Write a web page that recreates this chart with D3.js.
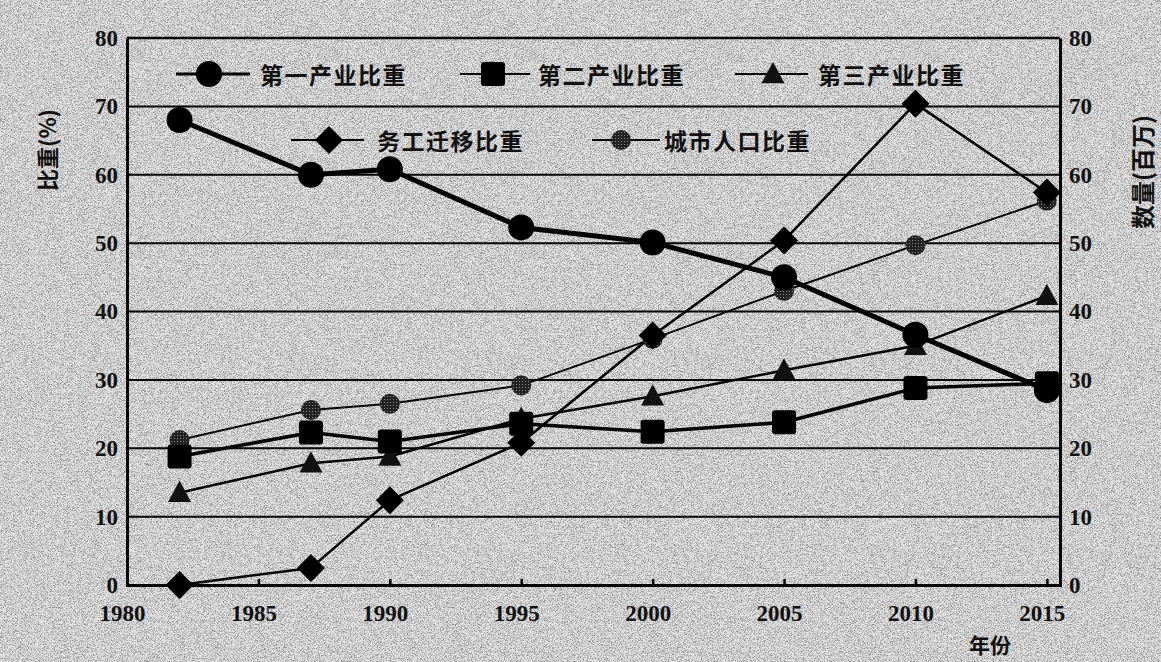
<!DOCTYPE html>
<html><head><meta charset="utf-8">
<script src="https://cdn.jsdelivr.net/npm/d3@7"></script>
<style>
html,body{margin:0;padding:0;background:#d0d0d0;}
svg{display:block;}
</style></head>
<body>
<svg id="chart" width="1161" height="662"></svg>
<script>
const years = [1982, 1987, 1990, 1995, 2000, 2005, 2010, 2015];
const primaryShare = [68, 60, 60.8, 52.3, 50.1, 45, 36.6, 28.5];
const secondaryShare = [18.8, 22.3, 21, 23.6, 22.4, 23.8, 28.8, 29.5];
const tertiaryShare = [13.5, 17.8, 18.8, 24.3, 27.6, 31.4, 35, 42.3];
const migrantShare = [0, 2.5, 12.4, 20.8, 36.5, 50.4, 70.4, 57.4];
const urbanShare = [21.2, 25.6, 26.5, 29.2, 36, 43, 49.7, 56.2];
const yTicks = [0, 10, 20, 30, 40, 50, 60, 70, 80];
const xTicks = [1980, 1985, 1990, 1995, 2000, 2005, 2010, 2015];
const seriesNames = ["第一产业比重", "第二产业比重", "第三产业比重", "务工迁移比重", "城市人口比重"];
const leftTitle = "比重(%)";
const rightTitle = "数量(百万)";
const xTitle = "年份";

const svg = d3.select("#chart");
const W = 1161, H = 662;
const L = 127, R = 1060, T = 38, B = 585;

const defs = svg.append("defs");
const f = defs.append("filter").attr("id","noise").attr("x",0).attr("y",0).attr("width","100%").attr("height","100%");
f.append("feTurbulence").attr("type","fractalNoise").attr("baseFrequency","1.3").attr("numOctaves",2).attr("seed",7).attr("result","t");
f.append("feColorMatrix").attr("type","matrix")
  .attr("values","0 0 0 0 0  0 0 0 0 0  0 0 0 0 0  -3 0 0 0 1.75");
const hatch = defs.append("pattern").attr("id","hatch").attr("width",3).attr("height",3).attr("patternUnits","userSpaceOnUse");
hatch.append("rect").attr("width",3).attr("height",3).attr("fill","#222");
hatch.append("rect").attr("width",1).attr("height",1).attr("fill","#888");

svg.append("rect").attr("width",W).attr("height",H).attr("fill","#e4e4e4");
svg.append("rect").attr("width",W).attr("height",H).attr("filter","url(#noise)").attr("opacity",0.38);

const x = d3.scaleLinear().domain([1980, 2015.5]).range([L, R]);
const y = d3.scaleLinear().domain([0, 80]).range([B, T]);

// gridlines
svg.append("g").selectAll("line").data(yTicks.filter(d=>d>0)).join("line")
  .attr("x1",L).attr("x2",R).attr("y1",d=>y(d)).attr("y2",d=>y(d))
  .attr("stroke","#000").attr("stroke-width",d=>d===80?2.5:2);

// axes
const numFont = "'Liberation Serif','Times New Roman',serif";
const cjkFont = "'Noto Sans CJK SC','Noto Sans CJK JP',sans-serif";

const leftAxis = d3.axisLeft(y).tickValues(yTicks).tickSize(0).tickPadding(9);
const gl = svg.append("g").attr("transform",`translate(${L},0)`).call(leftAxis);
const rightAxis = d3.axisRight(y).tickValues(yTicks).tickSize(0).tickPadding(9);
const gr = svg.append("g").attr("transform",`translate(${R},0)`).call(rightAxis);
const bottomAxis = d3.axisBottom(x).tickValues(xTicks).tickFormat(d3.format("d")).tickSize(-6).tickPadding(20);
const gb = svg.append("g").attr("transform",`translate(0,${B})`).call(bottomAxis);
[gl,gr,gb].forEach(g=>{
  g.select(".domain").attr("stroke","#000").attr("stroke-width",3);
  g.selectAll(".tick line").attr("stroke","#000").attr("stroke-width",2.5);
  g.selectAll("text").attr("font-family",numFont).attr("font-weight","bold")
    .attr("font-size",23).attr("fill","#111");
});
gb.selectAll(".tick text").attr("dx",-5);

// axis titles
svg.append("text").attr("transform",`translate(46,150) rotate(-90)`)
  .attr("text-anchor","middle").attr("dominant-baseline","central")
  .attr("font-family",cjkFont).attr("font-weight","bold").attr("font-size",22).attr("fill","#111")
  .text(leftTitle);
svg.append("text").attr("transform",`translate(1141,172) rotate(-90)`)
  .attr("text-anchor","middle").attr("dominant-baseline","central")
  .attr("font-family",cjkFont).attr("font-weight","bold").attr("font-size",24).attr("fill","#111")
  .text(rightTitle);
svg.append("text").attr("x",990).attr("y",644).attr("text-anchor","middle").attr("dominant-baseline","central")
  .attr("font-family",cjkFont).attr("font-weight","bold").attr("font-size",21).attr("fill","#111")
  .text(xTitle);

// series
const series = [
  {name:seriesNames[0], vals:primaryShare, marker:"circle", size:13, lw:5, fill:"#000"},
  {name:seriesNames[1], vals:secondaryShare, marker:"square", size:12, lw:3.5, fill:"#000"},
  {name:seriesNames[2], vals:tertiaryShare, marker:"triangle", size:11.5, lw:2.5, fill:"#111"},
  {name:seriesNames[3], vals:migrantShare, marker:"diamond", size:14, lw:2.5, fill:"#000"},
  {name:seriesNames[4], vals:urbanShare, marker:"hcircle", size:10, lw:2, fill:"url(#hatch)"}
];

function drawMarker(g, s, cx, cy, scale=1){
  const r = s.size*scale;
  if(s.marker==="circle" || s.marker==="hcircle"){
    g.append("circle").attr("cx",cx).attr("cy",cy).attr("r",r).attr("fill",s.fill);
  } else if(s.marker==="square"){
    g.append("rect").attr("x",cx-r).attr("y",cy-r).attr("width",2*r).attr("height",2*r).attr("rx",3).attr("fill",s.fill);
  } else if(s.marker==="triangle"){
    g.append("path").attr("d",`M${cx},${cy-r*1.05}L${cx+r},${cy+r*0.8}L${cx-r},${cy+r*0.8}Z`).attr("fill",s.fill);
  } else if(s.marker==="diamond"){
    g.append("path").attr("d",`M${cx},${cy-r}L${cx+r},${cy}L${cx},${cy+r}L${cx-r},${cy}Z`).attr("fill",s.fill);
  }
}

const line = d3.line().x(d=>x(d[0])).y(d=>y(d[1]));
const order = [4,2,1,3,0];
order.forEach(i=>{
  const s = series[i];
  const pts = years.map((yr,k)=>[yr, s.vals[k]]);
  svg.append("path").datum(pts).attr("d",line).attr("fill","none")
    .attr("stroke","#000").attr("stroke-width",s.lw).attr("stroke-linejoin","round");
});
order.forEach(i=>{
  const s = series[i];
  const g = svg.append("g");
  years.forEach((yr,k)=>drawMarker(g, s, x(yr), y(s.vals[k])));
});

// legend
const legendPos = [
  {x1:176, x2:250, mx:209, tx:260, y:74},
  {x1:460, x2:530, mx:493, tx:538, y:74},
  {x1:735, x2:808, mx:773, tx:818, y:74},
  {x1:291, x2:364, mx:329, tx:377, y:140},
  {x1:592, x2:660, mx:621, tx:664, y:140}
];
series.forEach((s,i)=>{
  const p = legendPos[i];
  const g = svg.append("g");
  g.append("line").attr("x1",p.x1).attr("x2",p.x2).attr("y1",p.y).attr("y2",p.y)
    .attr("stroke","#000").attr("stroke-width",i===0?3:2);
  drawMarker(g, s, p.mx, p.y, 1);
  g.append("text").attr("x",p.tx).attr("y",p.y).attr("dominant-baseline","central")
    .attr("font-family",cjkFont).attr("font-weight","bold").attr("font-size",23)
    .attr("letter-spacing",1.5).attr("fill","#111").text(s.name);
});
</script>
</body></html>
